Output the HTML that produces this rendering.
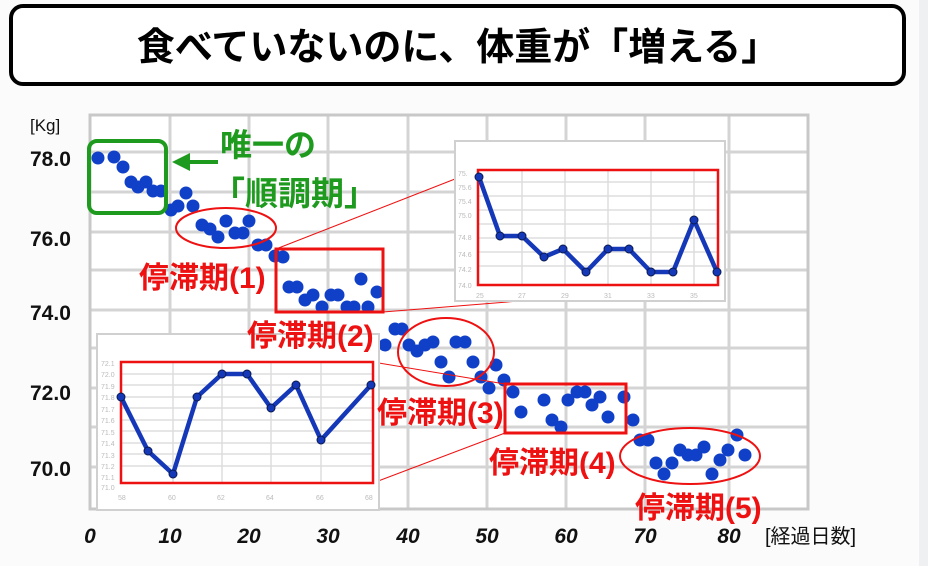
<!DOCTYPE html>
<html><head><meta charset="utf-8"><style>
html,body{margin:0;padding:0;background:#fbfbfc;}
svg{display:block;}
text{font-family:"Liberation Sans","Noto Sans CJK JP",sans-serif;}
</style></head><body>
<svg width="928" height="566" viewBox="0 0 928 566" xmlns="http://www.w3.org/2000/svg">
<rect x="0" y="0" width="928" height="566" fill="#fbfbfc"/>
<rect x="919" y="0" width="9" height="566" fill="#eef0f2"/>
<!-- title -->
<rect x="11" y="6" width="893" height="78" rx="12" fill="#fff" stroke="#000" stroke-width="4"/>
<text x="458" y="60" text-anchor="middle" font-size="38" font-weight="bold" fill="#000" font-family="'Noto Sans CJK JP',sans-serif">食べていないのに、体重が「増える」</text>
<!-- plot -->
<rect x="90" y="115" width="718" height="394" fill="#fff"/>
<g stroke="#d4d4d4" stroke-width="3">
<line x1="170" y1="115" x2="170" y2="509"/><line x1="249" y1="115" x2="249" y2="509"/>
<line x1="328" y1="115" x2="328" y2="509"/><line x1="408" y1="115" x2="408" y2="509"/>
<line x1="487" y1="115" x2="487" y2="509"/><line x1="566" y1="115" x2="566" y2="509"/>
<line x1="645" y1="115" x2="645" y2="509"/><line x1="729" y1="115" x2="729" y2="509"/>
<line x1="90" y1="152" x2="808" y2="152"/><line x1="90" y1="192" x2="808" y2="192"/>
<line x1="90" y1="232" x2="808" y2="232"/><line x1="90" y1="270" x2="808" y2="270"/>
<line x1="90" y1="310" x2="808" y2="310"/><line x1="90" y1="348" x2="808" y2="348"/>
<line x1="90" y1="388" x2="808" y2="388"/><line x1="90" y1="427" x2="808" y2="427"/>
<line x1="90" y1="467" x2="808" y2="467"/>
</g>
<rect x="90" y="115" width="718" height="394" fill="none" stroke="#c8c8c8" stroke-width="3"/>
<!-- axis labels -->
<g font-size="21" font-weight="bold" fill="#111">
<text x="30" y="131" font-size="17" font-weight="normal">[Kg]</text>
<text x="30" y="166">78.0</text><text x="30" y="246">76.0</text>
<text x="30" y="320">74.0</text><text x="30" y="400">72.0</text><text x="30" y="476">70.0</text>
<g text-anchor="middle" font-style="italic">
<text x="90" y="543">0</text><text x="170" y="543">10</text><text x="249" y="543">20</text>
<text x="328" y="543">30</text><text x="408" y="543">40</text><text x="487" y="543">50</text>
<text x="566" y="543">60</text><text x="645" y="543">70</text><text x="729" y="543">80</text>
</g>
<text x="765" y="543" font-size="20" font-weight="normal" font-family="'Noto Sans CJK JP',sans-serif">[経過日数]</text>
</g>
<!-- dots -->
<g fill="#1140c8">
<circle cx="98" cy="158" r="6.5"/><circle cx="114" cy="157" r="6.5"/><circle cx="123" cy="167" r="6.5"/><circle cx="131" cy="182" r="6.5"/><circle cx="138" cy="187" r="6.5"/><circle cx="146" cy="182" r="6.5"/><circle cx="153" cy="191" r="6.5"/><circle cx="161" cy="191" r="6.5"/><circle cx="171" cy="210" r="6.5"/><circle cx="178" cy="206" r="6.5"/><circle cx="186" cy="193" r="6.5"/><circle cx="193" cy="206" r="6.5"/><circle cx="202" cy="225" r="6.5"/><circle cx="210" cy="229" r="6.5"/><circle cx="218" cy="237" r="6.5"/><circle cx="226" cy="221" r="6.5"/><circle cx="235" cy="233" r="6.5"/><circle cx="243" cy="233" r="6.5"/><circle cx="249" cy="221" r="6.5"/><circle cx="258" cy="245" r="6.5"/><circle cx="266" cy="245" r="6.5"/><circle cx="275" cy="256" r="6.5"/><circle cx="283" cy="257" r="6.5"/><circle cx="289" cy="287" r="6.5"/><circle cx="297" cy="287" r="6.5"/><circle cx="305" cy="300" r="6.5"/><circle cx="313" cy="295" r="6.5"/><circle cx="322" cy="307" r="6.5"/><circle cx="331" cy="295" r="6.5"/><circle cx="338" cy="295" r="6.5"/><circle cx="347" cy="307" r="6.5"/><circle cx="354" cy="307" r="6.5"/><circle cx="361" cy="279" r="6.5"/><circle cx="368" cy="307" r="6.5"/><circle cx="377" cy="292" r="6.5"/>
<circle cx="395" cy="329" r="6.5"/><circle cx="402" cy="329" r="6.5"/><circle cx="385" cy="345" r="6.5"/><circle cx="409" cy="345" r="6.5"/><circle cx="417" cy="351" r="6.5"/><circle cx="425" cy="345" r="6.5"/><circle cx="433" cy="342" r="6.5"/><circle cx="456" cy="342" r="6.5"/><circle cx="465" cy="342" r="6.5"/><circle cx="441" cy="362" r="6.5"/><circle cx="473" cy="362" r="6.5"/><circle cx="449" cy="377" r="6.5"/><circle cx="496" cy="365" r="6.5"/><circle cx="481" cy="377" r="6.5"/><circle cx="504" cy="380" r="6.5"/><circle cx="489" cy="388" r="6.5"/><circle cx="513" cy="392" r="6.5"/><circle cx="521" cy="412" r="6.5"/><circle cx="544" cy="400" r="6.5"/><circle cx="552" cy="420" r="6.5"/><circle cx="561" cy="427" r="6.5"/><circle cx="568" cy="400" r="6.5"/><circle cx="577" cy="392" r="6.5"/><circle cx="585" cy="392" r="6.5"/><circle cx="592" cy="405" r="6.5"/><circle cx="600" cy="397" r="6.5"/><circle cx="608" cy="417" r="6.5"/><circle cx="624" cy="397" r="6.5"/><circle cx="633" cy="420" r="6.5"/><circle cx="640" cy="440" r="6.5"/><circle cx="648" cy="440" r="6.5"/><circle cx="656" cy="463" r="6.5"/><circle cx="664" cy="474" r="6.5"/><circle cx="672" cy="463" r="6.5"/><circle cx="680" cy="450" r="6.5"/><circle cx="688" cy="455" r="6.5"/><circle cx="696" cy="455" r="6.5"/><circle cx="704" cy="447" r="6.5"/><circle cx="712" cy="474" r="6.5"/><circle cx="720" cy="460" r="6.5"/><circle cx="728" cy="450" r="6.5"/><circle cx="737" cy="435" r="6.5"/><circle cx="745" cy="455" r="6.5"/>
</g>
<!-- green annotation -->
<rect x="89" y="141" width="77" height="72" rx="8" fill="none" stroke="#1e9a1e" stroke-width="4"/>
<line x1="218" y1="162" x2="186" y2="162" stroke="#1e9a1e" stroke-width="4"/>
<polygon points="172,162 190,153 190,171" fill="#1e9a1e"/>
<g fill="#1e9a1e" font-weight="bold" font-family="'Noto Sans CJK JP',sans-serif">
<text x="220" y="156" font-size="32">唯一の</text>
<text x="212" y="205" font-size="33">「順調期」</text>
</g>
<!-- red annotations -->
<g fill="none" stroke="#e11" stroke-width="2">
<ellipse cx="226" cy="228" rx="50" ry="20"/>
<ellipse cx="446" cy="352" rx="48" ry="34"/>
<ellipse cx="690" cy="456" rx="70" ry="28"/>
</g>
<g fill="none" stroke="#e11" stroke-width="3">
<rect x="276" y="249" width="107" height="63"/>
<rect x="505" y="384" width="121" height="49"/>
</g>
<g stroke="#e11" stroke-width="1">
<line x1="276" y1="249" x2="478" y2="170"/><line x1="383" y1="312" x2="718" y2="285"/>
<line x1="373" y1="362" x2="505" y2="384"/><line x1="373" y1="483" x2="505" y2="433"/>
</g>
<!-- inset 1 -->
<rect x="455" y="141" width="270" height="160" fill="#fff" stroke="#d0d0d0" stroke-width="2"/>
<g stroke="#ddd" stroke-width="1.5">
<line x1="522" y1="170" x2="522" y2="285"/><line x1="565" y1="170" x2="565" y2="285"/><line x1="608" y1="170" x2="608" y2="285"/><line x1="651" y1="170" x2="651" y2="285"/><line x1="694" y1="170" x2="694" y2="285"/>
<line x1="478" y1="182" x2="718" y2="182"/><line x1="478" y1="196" x2="718" y2="196"/><line x1="478" y1="210" x2="718" y2="210"/><line x1="478" y1="224" x2="718" y2="224"/><line x1="478" y1="238" x2="718" y2="238"/><line x1="478" y1="252" x2="718" y2="252"/><line x1="478" y1="266" x2="718" y2="266"/>
</g>
<g fill="#bbb" font-size="7">
<text x="458" y="176">75.</text><text x="458" y="190">75.6</text><text x="458" y="204">75.4</text><text x="458" y="218">75.0</text><text x="458" y="240">74.8</text><text x="458" y="257">74.6</text><text x="458" y="272">74.2</text><text x="458" y="288">74.0</text>
<text x="476" y="298">25</text><text x="518" y="298">27</text><text x="561" y="298">29</text><text x="604" y="298">31</text><text x="647" y="298">33</text><text x="690" y="298">35</text>
</g>
<rect x="478" y="170" width="240" height="115" fill="none" stroke="#e11" stroke-width="2.5"/>
<polyline points="479,177 500,236 522,236 544,257 563,249 586,272 608,249 629,249 651,272 673,272 694,220 717,272" fill="none" stroke="#1438b8" stroke-width="4.5" stroke-linejoin="round"/>
<g fill="#1438b8" stroke="#0a1a50" stroke-width="1">
<circle cx="479" cy="177" r="4"/><circle cx="500" cy="236" r="4"/><circle cx="522" cy="236" r="4"/><circle cx="544" cy="257" r="4"/><circle cx="563" cy="249" r="4"/><circle cx="586" cy="272" r="4"/><circle cx="608" cy="249" r="4"/><circle cx="629" cy="249" r="4"/><circle cx="651" cy="272" r="4"/><circle cx="673" cy="272" r="4"/><circle cx="694" cy="220" r="4"/><circle cx="717" cy="272" r="4"/>
</g>
<!-- inset 2 -->
<rect x="97" y="334" width="282" height="176" fill="#fff" stroke="#d0d0d0" stroke-width="2"/>
<g stroke="#ddd" stroke-width="1.5">
<line x1="173" y1="362" x2="173" y2="483"/><line x1="222" y1="362" x2="222" y2="483"/><line x1="271" y1="362" x2="271" y2="483"/><line x1="321" y1="362" x2="321" y2="483"/>
<line x1="121" y1="374" x2="373" y2="374"/><line x1="121" y1="385" x2="373" y2="385"/><line x1="121" y1="397" x2="373" y2="397"/><line x1="121" y1="408" x2="373" y2="408"/><line x1="121" y1="420" x2="373" y2="420"/><line x1="121" y1="431" x2="373" y2="431"/><line x1="121" y1="443" x2="373" y2="443"/><line x1="121" y1="454" x2="373" y2="454"/><line x1="121" y1="466" x2="373" y2="466"/>
</g>
<g fill="#bbb" font-size="7">
<text x="101" y="366">72.1</text><text x="101" y="377">72.0</text><text x="101" y="389">71.9</text><text x="101" y="400">71.8</text><text x="101" y="412">71.7</text><text x="101" y="423">71.6</text><text x="101" y="435">71.5</text><text x="101" y="446">71.4</text><text x="101" y="458">71.3</text><text x="101" y="469">71.2</text><text x="101" y="480">71.1</text><text x="101" y="490">71.0</text>
<text x="118" y="500">58</text><text x="168" y="500">60</text><text x="217" y="500">62</text><text x="266" y="500">64</text><text x="316" y="500">66</text><text x="365" y="500">68</text>
</g>
<rect x="121" y="362" width="252" height="121" fill="none" stroke="#e11" stroke-width="2.5"/>
<polyline points="121,397 148,451 173,474 197,397 222,374 247,374 271,408 296,385 321,440 371,385" fill="none" stroke="#1438b8" stroke-width="4.5" stroke-linejoin="round"/>
<g fill="#1438b8" stroke="#0a1a50" stroke-width="1">
<circle cx="121" cy="397" r="4"/><circle cx="148" cy="451" r="4"/><circle cx="173" cy="474" r="4"/><circle cx="197" cy="397" r="4"/><circle cx="222" cy="374" r="4"/><circle cx="247" cy="374" r="4"/><circle cx="271" cy="408" r="4"/><circle cx="296" cy="385" r="4"/><circle cx="321" cy="440" r="4"/><circle cx="371" cy="385" r="4"/>
</g>
<!-- red labels on top -->
<g fill="#e11" font-size="30" font-weight="bold">
<text x="139" y="288">停滞期(1)</text>
<text x="247" y="346">停滞期(2)</text>
<text x="377" y="423">停滞期(3)</text>
<text x="489" y="473">停滞期(4)</text>
<text x="635" y="518">停滞期(5)</text>
</g>
</svg>
</body></html>
